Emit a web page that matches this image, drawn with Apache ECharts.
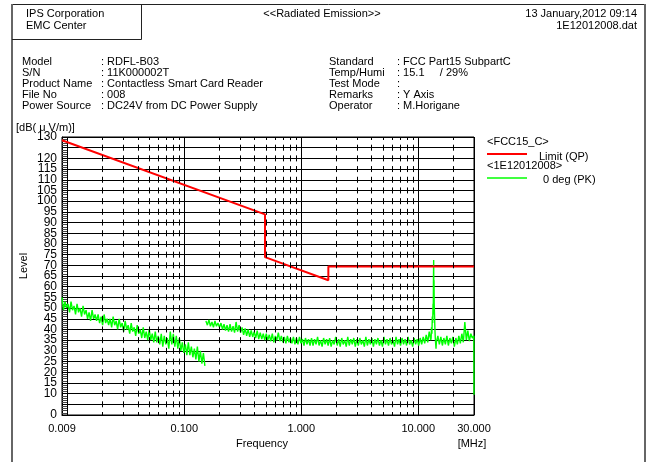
<!DOCTYPE html>
<html><head><meta charset="utf-8">
<script src="https://cdn.jsdelivr.net/npm/echarts@6/dist/echarts.min.js"></script>
<style>html,body{margin:0;padding:0;background:#fff}#c{width:651px;height:462px}</style>
</head><body><div id="c"></div>
<script>
// ---- tick labels ----
const yLabels = ['0','10','15','20','25','30','35','40','45','50','55','60','65','70','75','80','85','90','95','100','105','110','115','120','130'];
const xLabels = ['0.009','0.100','1.000','10.000','30.000'];
const minorFreqs = [0.02,0.03,0.04,0.05,0.06,0.07,0.08,0.09,0.2,0.3,0.4,0.5,0.6,0.7,0.8,0.9,2,3,4,5,6,7,8,9,20];

// ---- FCC15_C limit (QP) ----
const limitFreq = [0.009, 0.49, 0.49, 1.705, 1.705, 30];
const limitLevel = [128.5, 93.8, 73.8, 63.0, 69.5, 69.5];

// ---- 0 deg (PK) trace ----
// segment A: 0.009 - 0.150 MHz
const segARange = [0.009, 0.150];
const segALevel = [
 55,49,53,50,52,48,53,49, 51,47,52,48,50,46,51,47,
 49,45,48,44,49,45,47,44, 47,43,46,42,47,43,45,42,
 45,41,46,42,44,40,45,41, 43,39,44,40,42,38,43,39,
 41,37,42,38,40,36,41,36, 39,35,40,35,38,34,39,34,
 37,33,38,32,37,33,36,31, 39,33,38,32,37,31,36,30,
 34,29,33,28,34,28,32,27, 31,26,32,25,30,24,29,23
];
// segment B: 0.153 - 12.8 MHz
const segBRange = [0.153, 12.8];
const segBLevel = [
 44,42,44.5,41.5,43.5,41,44,41.5,43,41,
 43,40,42.5,39.5,42,39,42.5,39,41.5,38.5,
 43.5,39,42,38.5,41,37.5,40.5,37,40,36.5,
 39.5,36.5,39,36,39.5,35.5,38.5,35.5,38,35,
 38,35,37.5,34.5,38,34,37,35,38.5,34.5,
 37,34,36.5,33.5,37,34,36,33.5,36.5,33,
 36,33,36.5,33.5,35.5,32.5,36,33,35.5,32.5,
 36,32.5,35.5,33,36.5,32.5,35,32,36,33,
 35.5,32.5,36,32,35,33,36.5,32.5,35.5,32,
 36,33,35,32,36.5,32.5,35.5,33,36,32,
 35.5,32.5,36,33,35,32,36.5,32.5,35.5,33,
 36,32,35.5,33,36,32.5,35,32,36.5,33,
 35.5,32.5,36,33,35,32,36.5,33,35.5,32.5,
 36,33,35.5,32.5,36.5,33,35,32,36,33,
 35.5,32.5,36,33,36.5,33.5,37.5,34,39,35
];
// 13.56 MHz emission
const spikeFreq  = [12.9, 13.0, 13.1, 13.2, 13.3, 13.4, 13.45, 13.5, 13.56, 13.6, 13.65, 13.7, 13.8, 13.9, 14.0, 14.1, 14.2];
const spikeLevel = [36,   41,   38,   46,   43,   52,   47,    62,   72.5,  58,   63,    52,   46,   40,   36,   33.5, 31];
// segment C: 14.3 - 29.9 MHz
const segCRange = [14.3, 29.9];
const segCLevel = [34,37,33,36.5,32.5,36,33,37,32.5,36,33.5,36.5,32,36,33,37,33.5,38,34,43.5,35,39.5,34.5,38,36,37];
const endFreq = [30];
const endLevel = [9.5];

// ---- build data ----
function sweep(range, levels){
  const n = levels.length, r = range[1]/range[0];
  return levels.map((v,i)=>[range[0]*Math.pow(r, i/(n-1)), v]);
}
const zip = (f,l)=>f.map((x,i)=>[x,l[i]]);
const limitData = zip(limitFreq, limitLevel);
const pkA = sweep(segARange, segALevel);
const pkB = sweep(segBRange, segBLevel).concat(zip(spikeFreq, spikeLevel), sweep(segCRange, segCLevel), zip(endFreq, endLevel));

const FONT = 'Liberation Sans, Arial, sans-serif';
const T = (x,y,text,opt)=>Object.assign({type:'text',x:x,y:y,silent:true,style:Object.assign({text:text,fill:'#000',font:'11px '+FONT,verticalAlign:'middle',align:'left'},opt||{})});
const L = (x1,y1,x2,y2,stroke,w)=>({type:'line',silent:true,shape:{x1:x1,y1:y1,x2:x2,y2:y2},style:{stroke:stroke,lineWidth:w}});

const info = [
 ['Model',': RDFL-B03','Standard',': FCC Part15 SubpartC'],
 ['S/N',': 11K000002T','Temp/Humi',': 15.1     / 29%'],
 ['Product Name',': Contactless Smart Card Reader','Test Mode',':'],
 ['File No',': 008','Remarks',': Y Axis'],
 ['Power Source',': DC24V from DC Power Supply','Operator',': M.Horigane']
];
const graphics = [
  L(12,4.5,645,4.5,'#222',1),
  L(12,4,12,462,'#666',2),
  L(645,4,645,462,'#666',2),
  L(141.5,4,141.5,39.5,'#222',1),
  L(12,39.5,141.5,39.5,'#222',1),
  T(26,14,'IPS Corporation'), T(26,26,'EMC Center'),
  T(322,14,'<<Radiated Emission>>',{align:'center'}),
  T(637,14,'13 January,2012 09:14',{align:'right'}),
  T(637,26,'1E12012008.dat',{align:'right'}),
  T(16,128,'[dB( μ V/m)]'),
  T(24,266,'Level',{align:'center'}),
  T(262,444,'Frequency',{align:'center'}),
  T(472,444,'[MHz]',{align:'center'}),
  T(487,142,'<FCC15_C>'),
  L(487,154,527,154,'#ff0000',2),
  T(539,157,'Limit (QP)'),
  T(487,166,'<1E12012008>'),
  L(487,178,527,178,'#00ff00',1.6),
  T(543,180,'0 deg (PK)')
];
graphics[11].rotation = Math.PI/2;
info.forEach((r,i)=>{
  const y = 62 + i*11;
  graphics.push(T(22,y,r[0]), T(101,y,r[1]), T(329,y,r[2]), T(397,y,r[3]));
});

const chart = echarts.init(document.getElementById('c'));
chart.setOption({
  animation:false,
  backgroundColor:'#fff',
  grid:{left:62,right:177,top:137,bottom:47,show:true,borderColor:'#000',borderWidth:1,containLabel:false},
  xAxis:{type:'log',logBase:10,min:0.009,max:30,
    axisLine:{lineStyle:{color:'#000',width:1}},
    axisTick:{show:false},
    splitLine:{show:true,lineStyle:{color:'#000',width:1}},
    axisLabel:{color:'#000',fontSize:11,fontFamily:FONT,margin:8,showMinLabel:true,showMaxLabel:true,
      formatter:v=>{const s=(Math.round(v*1000)/1000).toFixed(3);return xLabels.indexOf(s)>=0?s:'';}}
  },
  yAxis:{type:'value',min:0,max:130,interval:5,
    axisLine:{show:true,lineStyle:{color:'#000',width:1}},
    axisTick:{show:true,inside:true,length:5,lineStyle:{color:'#000'}},
    minorTick:{show:true,splitNumber:5,length:5,lineStyle:{color:'#444'}},
    splitLine:{show:true,lineStyle:{color:'#000',width:1}},
    axisLabel:{color:'#000',fontSize:12,fontFamily:FONT,margin:5,
      formatter:v=>yLabels.indexOf(String(v))>=0?String(v):''}
  },
  series:[
    {name:'minor',type:'line',data:[],z:1,silent:true,
      markLine:{silent:true,symbol:['none','none'],animation:false,label:{show:false},
        lineStyle:{color:'#000',width:1,type:[6,278/26-6],dashOffset:3},
        emphasis:{disabled:true},
        data:minorFreqs.map(f=>({xAxis:f}))}},
    {name:'0 deg (PK)',type:'line',data:pkA,showSymbol:false,symbol:'none',z:3,
      lineStyle:{color:'#00ff00',width:1.4},itemStyle:{color:'#00ff00'}},
    {name:'0 deg (PK) ',type:'line',data:pkB,showSymbol:false,symbol:'none',z:3,
      lineStyle:{color:'#00ff00',width:1.4},itemStyle:{color:'#00ff00'}},
    {name:'Limit (QP)',type:'line',data:limitData,showSymbol:false,symbol:'none',z:4,
      lineStyle:{color:'#ff0000',width:2},itemStyle:{color:'#ff0000'}}
  ],
  graphic:graphics
});
</script></body></html>
